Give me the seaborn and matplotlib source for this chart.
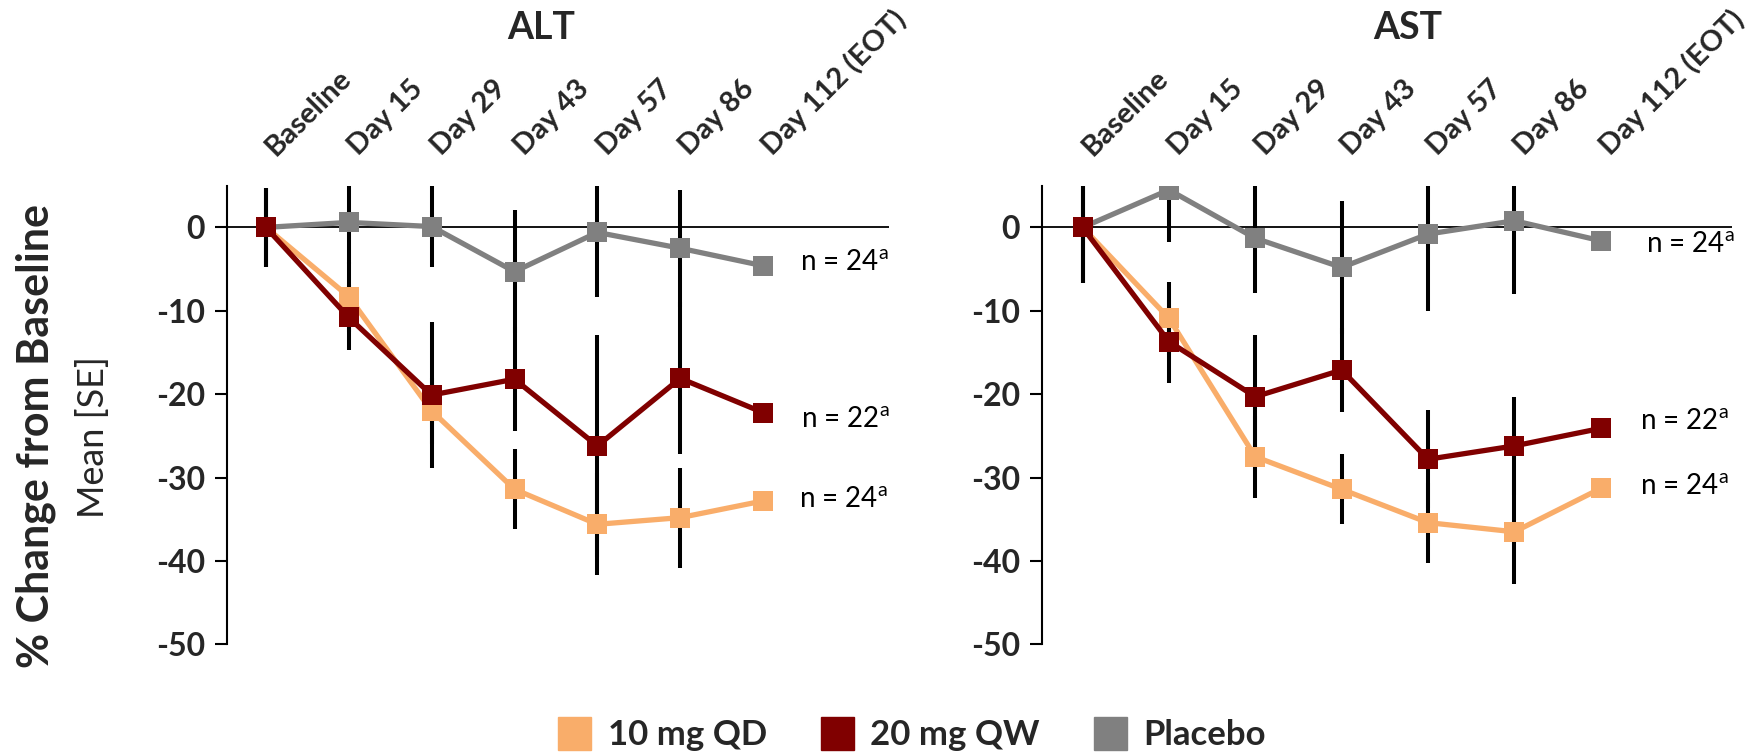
import numpy as np
import pandas as pd
import matplotlib
matplotlib.use("Agg")
import matplotlib.pyplot as plt
from matplotlib.patches import Patch
from matplotlib.transforms import ScaledTranslation
import seaborn as sns

# ---------------- data ----------------
visits = ["Baseline", "Day 15", "Day 29", "Day 43", "Day 57", "Day 86", "Day 112 (EOT)"]
groups = ["10 mg QD", "20 mg QW", "Placebo"]

alt_qd10 = [0, -8.3, -22.0, -31.4, -35.6, -34.8, -32.8]
alt_qw20 = [0, -10.8, -20.1, -18.2, -26.2, -18.1, -22.2]
alt_pbo = [0, 0.6, 0.1, -5.3, -0.6, -2.5, -4.6]
alt_qd10_se = [4.7, 4.2, 4.0, 4.8, 6.1, 6.0, np.nan]
alt_qw20_se = [4.7, 3.9, 8.7, 6.2, 13.3, 9.1, np.nan]
alt_pbo_se = [4.7, 5.0, 4.9, 7.4, 7.7, 7.0, np.nan]

ast_qd10 = [0, -10.9, -27.5, -31.4, -35.4, -36.5, -31.3]
ast_qw20 = [0, -13.7, -20.3, -17.1, -27.8, -26.2, -24.1]
ast_pbo = [0, 4.5, -1.3, -4.8, -0.8, 0.8, -1.6]
ast_qd10_se = [6.7, 4.4, 4.9, 4.2, 4.8, 6.2, np.nan]
ast_qw20_se = [6.7, 5.0, 7.4, 5.0, 5.9, 5.9, np.nan]
ast_pbo_se = [6.7, 6.3, 6.6, 8.0, 9.2, 8.8, np.nan]

alt_n_labels = ["n = 24", "n = 22", "n = 24"]   # 10 mg QD, 20 mg QW, Placebo
ast_n_labels = ["n = 24", "n = 22", "n = 24"]

colors = {"10 mg QD": "#F9AD6A", "20 mg QW": "#800000", "Placebo": "#808080"}

# ---------------- style ----------------
sns.set_theme(style="white")
plt.rcParams["font.family"] = ["Lato", "DejaVu Sans"]
plt.rcParams["mathtext.fontset"] = "custom"
plt.rcParams["mathtext.rm"] = "Lato"
plt.rcParams["mathtext.it"] = "Lato"

W, H = 1748, 756
fig = plt.figure(figsize=(W / 100, H / 100), dpi=100)

ax_l = fig.add_axes([227 / W, 1 - 644.4 / H, 662 / W, (644.4 - 185.7) / H])
ax_r = fig.add_axes([1042 / W, 1 - 644.4 / H, 690 / W, (644.4 - 185.7) / H])


def build(qd, qw, pb):
    rows = []
    for g, vals in zip(groups, [qd, qw, pb]):
        for i, v in enumerate(vals):
            rows.append({"pos": i, "value": v, "group": g})
    return pd.DataFrame(rows)


panels = [
    (ax_l, build(alt_qd10, alt_qw20, alt_pbo),
     [alt_qd10_se, alt_qw20_se, alt_pbo_se], [alt_qd10, alt_qw20, alt_pbo],
     alt_n_labels, [(6.43, -32.6), (6.46, -23.0), (6.45, -4.2)]),
    (ax_r, build(ast_qd10, ast_qw20, ast_pbo),
     [ast_qd10_se, ast_qw20_se, ast_pbo_se], [ast_qd10, ast_qw20, ast_pbo],
     ast_n_labels, [(6.46, -31.0), (6.46, -23.2), (6.52, -2.0)]),
]

for ax, df, ses, means, nlab, npos in panels:
    # error bars (behind lines)
    for vals, se in zip(means, ses):
        v = np.array(vals, dtype=float)
        s = np.array(se, dtype=float)
        m = ~np.isnan(s)
        x = np.arange(len(v))[m]
        ax.errorbar(x, v[m], yerr=s[m], fmt="none", ecolor="black",
                    elinewidth=2.9, capsize=0, zorder=1.5)
    ax.axhline(0, color="black", lw=1.3, zorder=1.4)
    sns.lineplot(data=df, x="pos", y="value", hue="group",
                 hue_order=["Placebo", "10 mg QD", "20 mg QW"],
                 palette=colors, marker="s", markersize=14.5,
                 markeredgewidth=0, linewidth=3.8, legend=False,
                 sort=False, ax=ax, zorder=3)
    ax.set_xlim(-0.47, 7.52)
    ax.set_ylim(-50, 5)
    ax.set_yticks([0, -10, -20, -30, -40, -50])
    ax.set_yticklabels(["0", "-10", "-20", "-30", "-40", "-50"],
                       fontsize=23, fontweight="bold")
    ax.set_xticks(range(len(visits)))
    ax.xaxis.tick_top()
    ax.set_xticklabels(visits, rotation=45, ha="left", va="baseline",
                       rotation_mode="anchor", fontsize=21, fontweight="bold")
    ax.tick_params(axis="x", length=0, pad=21)
    ax.tick_params(axis="y", direction="out", length=9, width=1.5,
                   color="black", pad=7, left=True)
    for lab in ax.get_xticklabels():
        lab.set_transform(lab.get_transform() +
                          ScaledTranslation(7 / 72, 0, fig.dpi_scale_trans))
    for sp in ["top", "right", "bottom"]:
        ax.spines[sp].set_visible(False)
    ax.spines["left"].set_color("black")
    ax.spines["left"].set_linewidth(1.5)
    ax.set_xlabel("")
    ax.set_ylabel("")
    ax.grid(False)
    for lab, (xx, yy) in zip(nlab, npos):
        ax.text(xx, yy, lab + r"$^{\mathrm{a}}$", fontsize=20,
                ha="left", va="center", color="black")

fig.text(541 / W, 1 - 28 / H, "ALT", fontsize=27, fontweight="bold",
         ha="center", va="center")
fig.text(1408 / W, 1 - 28 / H, "AST", fontsize=27, fontweight="bold",
         ha="center", va="center")

fig.text(36 / W, 1 - 436 / H, "% Change from Baseline", rotation=90,
         fontsize=31, fontweight="bold", ha="center", va="center")
fig.text(93 / W, 1 - 437 / H, "Mean [SE]", rotation=90,
         fontsize=26, ha="center", va="center")

handles = [Patch(facecolor=colors[g], edgecolor=colors[g]) for g in groups]
leg = fig.legend(handles, groups, loc="center", bbox_to_anchor=(912 / W, 1 - 734 / H),
                 ncol=3, frameon=False, handlelength=0.95, handleheight=1.12,
                 handletextpad=0.48, columnspacing=1.55,
                 prop={"size": 25, "weight": "bold"})

fig.savefig("out.png", dpi=100)
